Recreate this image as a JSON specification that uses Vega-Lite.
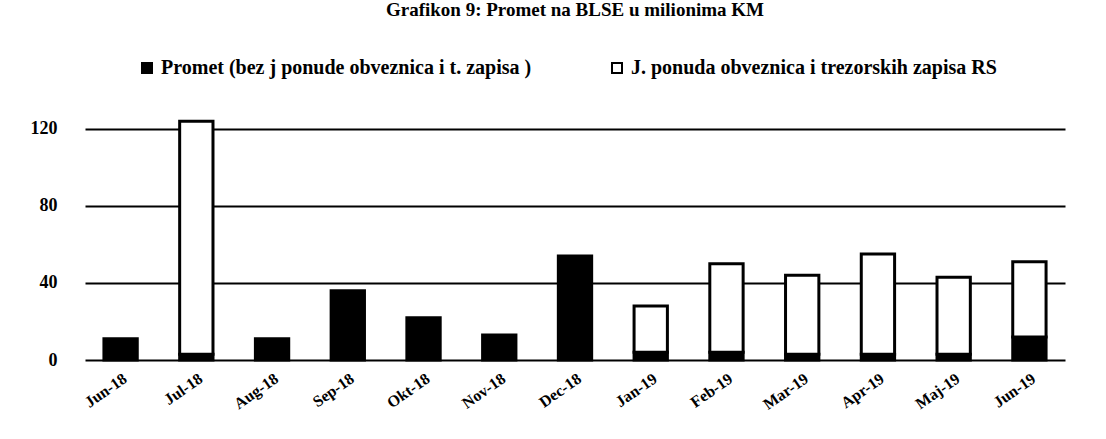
{
  "$schema": "https://vega.github.io/schema/vega-lite/v6.json",
  "autosize": "none",
  "width": 980,
  "height": 260,
  "padding": {"left": 85, "top": 100, "right": 41, "bottom": 79},
  "background": "white",
  "title": {"text": "Grafikon 9: Promet na BLSE u milionima KM", "font": "Liberation Serif", "fontSize": 19, "fontWeight": "bold", "anchor": "middle", "offset": 38, "color": "black"},
  "data": {"values": [
    {"m": "Jun-18", "s": "Promet (bez j ponude obveznica i t. zapisa )", "o": 1, "v": 11},
    {"m": "Jul-18", "s": "Promet (bez j ponude obveznica i t. zapisa )", "o": 1, "v": 3},
    {"m": "Jul-18", "s": "J. ponuda obveznica i trezorskih zapisa RS", "o": 2, "v": 121},
    {"m": "Aug-18", "s": "Promet (bez j ponude obveznica i t. zapisa )", "o": 1, "v": 11},
    {"m": "Sep-18", "s": "Promet (bez j ponude obveznica i t. zapisa )", "o": 1, "v": 36},
    {"m": "Okt-18", "s": "Promet (bez j ponude obveznica i t. zapisa )", "o": 1, "v": 22},
    {"m": "Nov-18", "s": "Promet (bez j ponude obveznica i t. zapisa )", "o": 1, "v": 13},
    {"m": "Dec-18", "s": "Promet (bez j ponude obveznica i t. zapisa )", "o": 1, "v": 54},
    {"m": "Jan-19", "s": "Promet (bez j ponude obveznica i t. zapisa )", "o": 1, "v": 4},
    {"m": "Jan-19", "s": "J. ponuda obveznica i trezorskih zapisa RS", "o": 2, "v": 24},
    {"m": "Feb-19", "s": "Promet (bez j ponude obveznica i t. zapisa )", "o": 1, "v": 4},
    {"m": "Feb-19", "s": "J. ponuda obveznica i trezorskih zapisa RS", "o": 2, "v": 46},
    {"m": "Mar-19", "s": "Promet (bez j ponude obveznica i t. zapisa )", "o": 1, "v": 3},
    {"m": "Mar-19", "s": "J. ponuda obveznica i trezorskih zapisa RS", "o": 2, "v": 41},
    {"m": "Apr-19", "s": "Promet (bez j ponude obveznica i t. zapisa )", "o": 1, "v": 3},
    {"m": "Apr-19", "s": "J. ponuda obveznica i trezorskih zapisa RS", "o": 2, "v": 52},
    {"m": "Maj-19", "s": "Promet (bez j ponude obveznica i t. zapisa )", "o": 1, "v": 3},
    {"m": "Maj-19", "s": "J. ponuda obveznica i trezorskih zapisa RS", "o": 2, "v": 40},
    {"m": "Jun-19", "s": "Promet (bez j ponude obveznica i t. zapisa )", "o": 1, "v": 12},
    {"m": "Jun-19", "s": "J. ponuda obveznica i trezorskih zapisa RS", "o": 2, "v": 39}
  ]},
  "mark": {"type": "bar", "stroke": "black", "strokeWidth": 3},
  "encoding": {
    "x": {"field": "m", "type": "nominal", "sort": null, "title": null,
      "scale": {"paddingInner": 0.56, "paddingOuter": 0.25},
      "axis": {"labelAngle": -35, "labelFont": "Liberation Serif", "labelFontSize": 16, "labelFontWeight": "bold", "labelColor": "black", "ticks": false, "domain": false, "labelPadding": 10}},
    "y": {"field": "v", "type": "quantitative", "stack": "zero", "title": null,
      "scale": {"domain": [0, 135], "nice": false},
      "axis": {"values": [0, 40, 80, 120], "labelFont": "Liberation Serif", "labelFontSize": 18, "labelFontWeight": "bold", "labelColor": "black", "ticks": false, "domain": false, "labelPadding": 28, "gridColor": "black", "gridWidth": 2, "gridOpacity": 1}},
    "color": {"field": "s", "type": "nominal", "sort": ["Promet (bez j ponude obveznica i t. zapisa )", "J. ponuda obveznica i trezorskih zapisa RS"],
      "scale": {"range": ["black", "white"]},
      "legend": {"title": null, "orient": "none", "legendX": 52, "legendY": -42, "direction": "horizontal", "columnPadding": 75, "symbolType": "square", "symbolSize": 100, "symbolStrokeColor": "black", "symbolStrokeWidth": 2, "labelFont": "Liberation Serif", "labelFontSize": 20, "labelFontWeight": "bold", "labelColor": "black", "labelLimit": 600}},
    "order": {"field": "o", "type": "quantitative"}
  },
  "config": {"view": {"stroke": null}}
}
